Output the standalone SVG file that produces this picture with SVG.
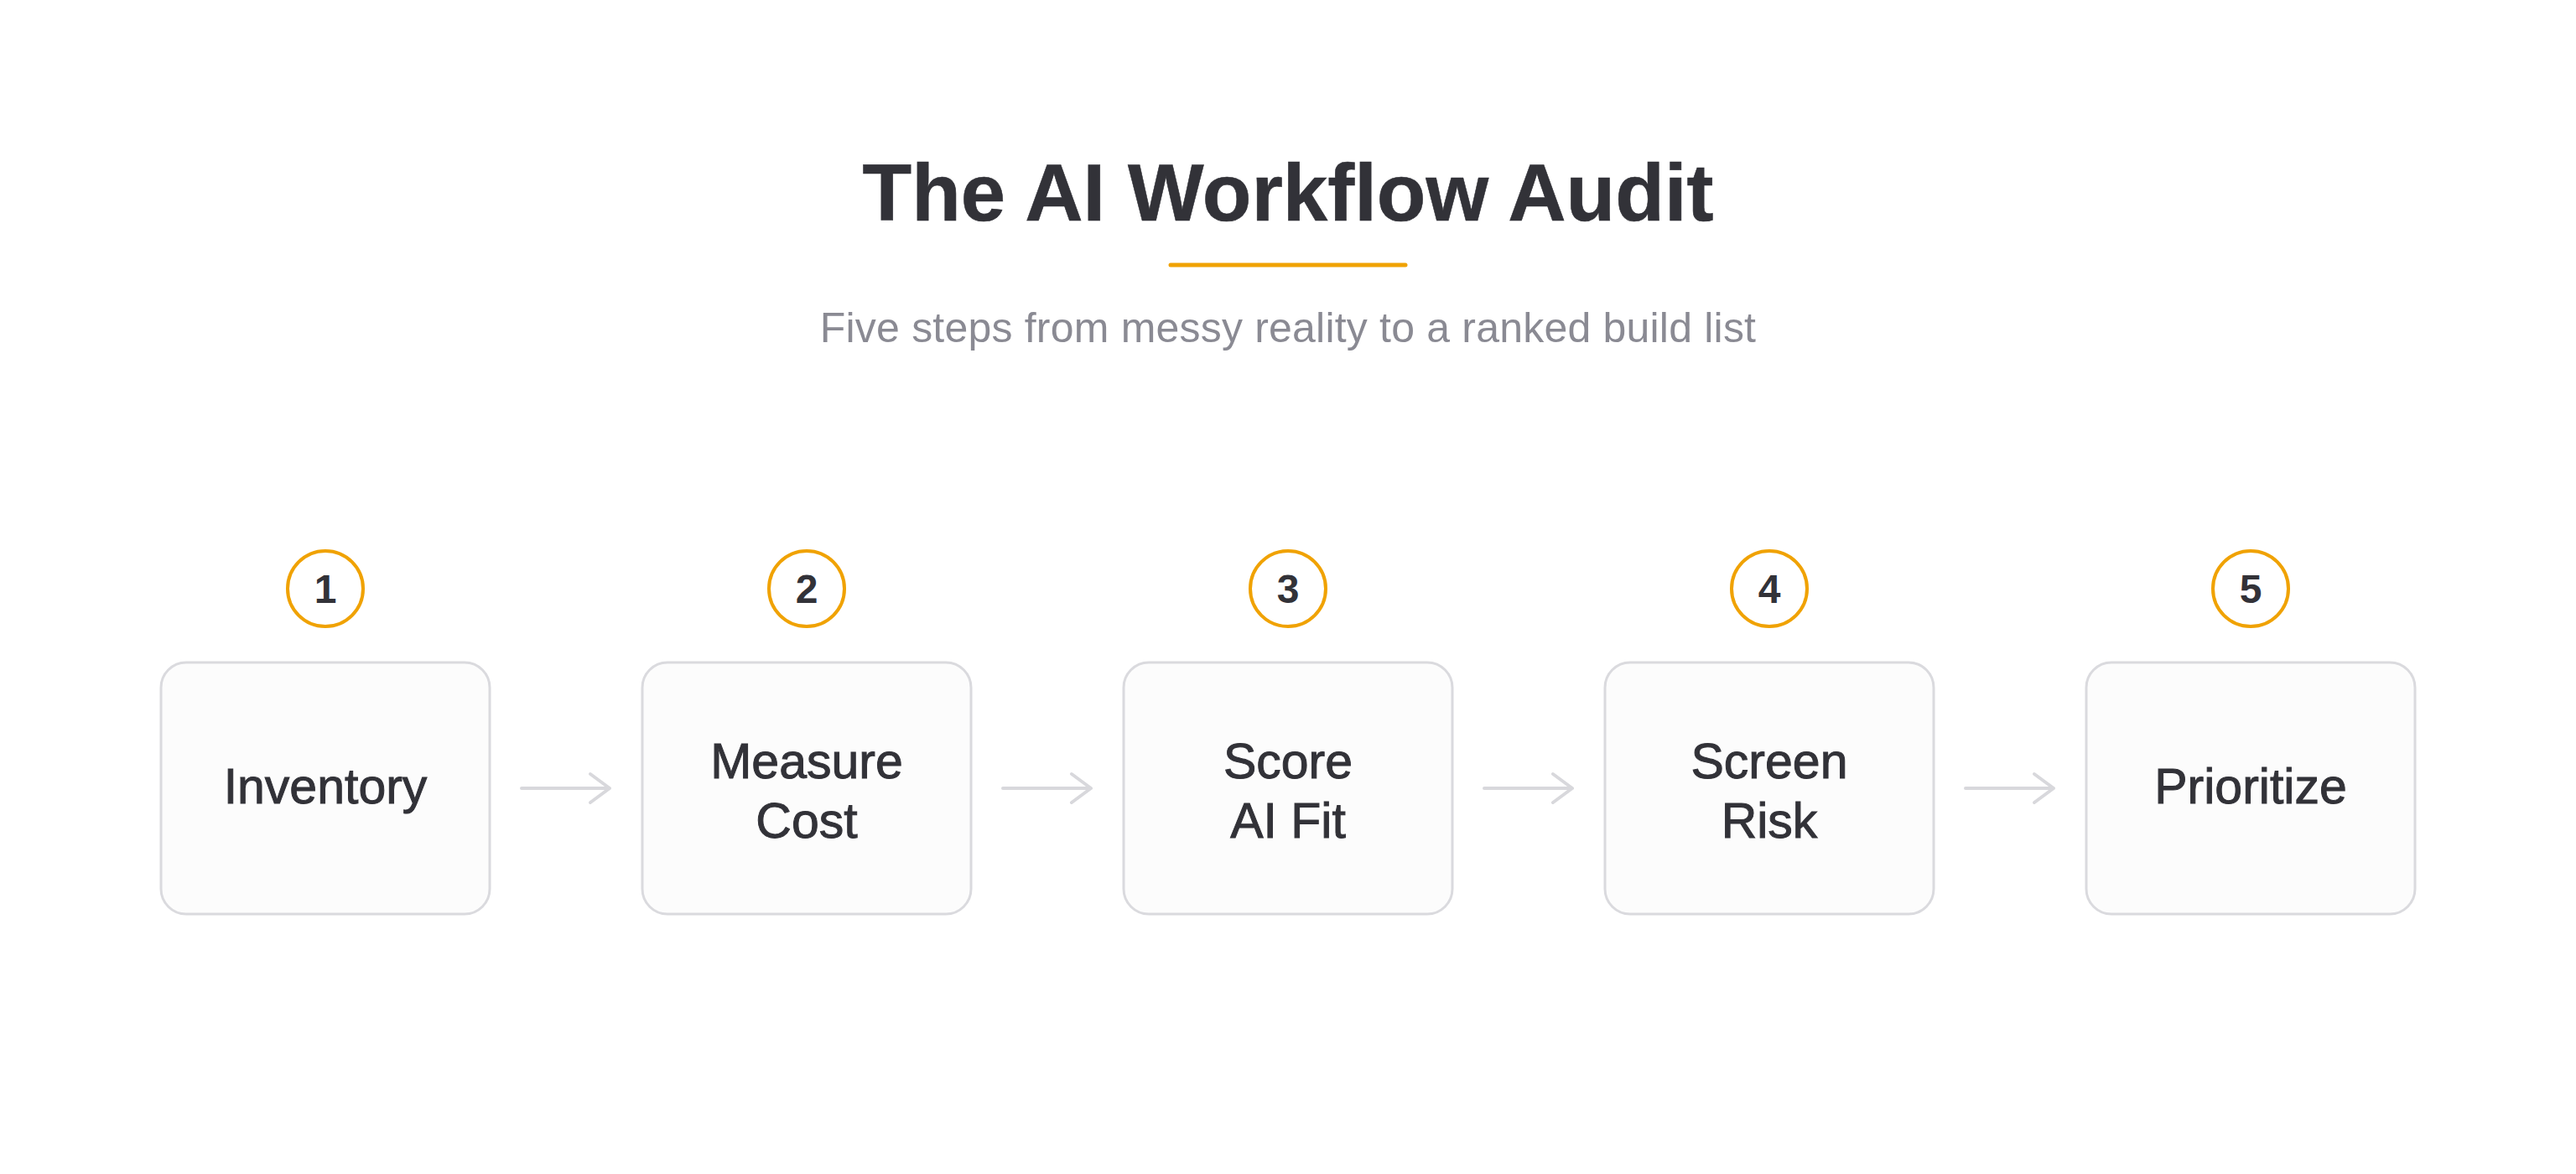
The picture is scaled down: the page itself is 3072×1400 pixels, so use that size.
<svg xmlns="http://www.w3.org/2000/svg" width="3072" height="1400" viewBox="0 0 3072 1400">
<defs>
<style>
.title{font-family:"Liberation Sans",Arial,sans-serif;font-weight:bold;font-size:96px;fill:#323238;stroke:#323238;stroke-width:0.6;text-anchor:middle}
.sub{font-family:"Liberation Sans",Arial,sans-serif;font-size:50px;fill:#8a8a93;text-anchor:middle;letter-spacing:0.2px}
.box{fill:#fcfcfc;stroke:#dadade;stroke-width:3}
.badge{fill:#ffffff;stroke:#f0a202;stroke-width:4}
.num{font-family:"Liberation Sans",Arial,sans-serif;font-weight:bold;font-size:48px;fill:#323238;text-anchor:middle}
.lbl{font-family:"Liberation Sans",Arial,sans-serif;font-size:59px;fill:#323238;stroke:#323238;stroke-width:1;text-anchor:middle}
.conn{fill:none;stroke:#d8d8dc;stroke-width:4;stroke-linecap:round;stroke-linejoin:round}
</style>
</defs>
<rect width="3072" height="1400" fill="#ffffff"/>
<g id="header">
<text class="title" x="1536" y="263">The AI Workflow Audit</text>
<line x1="1396" y1="316" x2="1676" y2="316" stroke="#f0a202" stroke-width="5" stroke-linecap="round"/>
<text class="sub" x="1536" y="408">Five steps from messy reality to a ranked build list</text>
</g>
<g id="connectors">
<path class="conn" d="M622 940 H727 M704 923 L727 940 L704 957"/>
<path class="conn" d="M1196 940 H1301 M1278 923 L1301 940 L1278 957"/>
<path class="conn" d="M1770 940 H1875 M1852 923 L1875 940 L1852 957"/>
<path class="conn" d="M2344 940 H2449 M2426 923 L2449 940 L2426 957"/>
</g>
<g id="step1">
<circle class="badge" cx="388" cy="702" r="45"/>
<text class="num" x="388" y="719">1</text>
<rect class="box" x="192" y="790" width="392" height="300" rx="30"/>
<text class="lbl" x="388" y="958">Inventory</text>
</g>
<g id="step2">
<circle class="badge" cx="962" cy="702" r="45"/>
<text class="num" x="962" y="719">2</text>
<rect class="box" x="766" y="790" width="392" height="300" rx="30"/>
<text class="lbl" x="962" y="928">Measure</text>
<text class="lbl" x="962" y="999">Cost</text>
</g>
<g id="step3">
<circle class="badge" cx="1536" cy="702" r="45"/>
<text class="num" x="1536" y="719">3</text>
<rect class="box" x="1340" y="790" width="392" height="300" rx="30"/>
<text class="lbl" x="1536" y="928">Score</text>
<text class="lbl" x="1536" y="999">AI Fit</text>
</g>
<g id="step4">
<circle class="badge" cx="2110" cy="702" r="45"/>
<text class="num" x="2110" y="719">4</text>
<rect class="box" x="1914" y="790" width="392" height="300" rx="30"/>
<text class="lbl" x="2110" y="928">Screen</text>
<text class="lbl" x="2110" y="999">Risk</text>
</g>
<g id="step5">
<circle class="badge" cx="2684" cy="702" r="45"/>
<text class="num" x="2684" y="719">5</text>
<rect class="box" x="2488" y="790" width="392" height="300" rx="30"/>
<text class="lbl" x="2684" y="958">Prioritize</text>
</g>
</svg>
